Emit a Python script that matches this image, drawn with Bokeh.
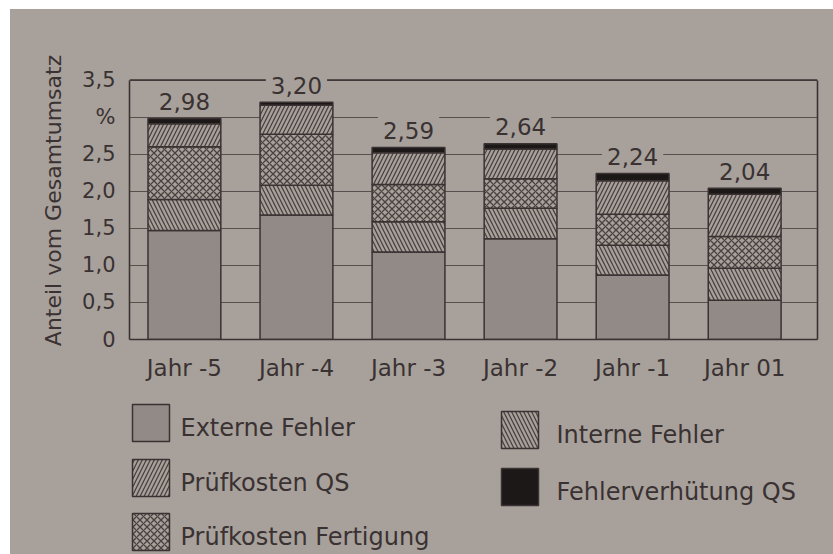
from bokeh.plotting import figure
from bokeh.models import ColumnDataSource, FixedTicker, Range1d, Label, LinearAxis, Span
from bokeh.layouts import column
from bokeh.embed import file_html
from bokeh.resources import INLINE
from bokeh.core.properties import value

# ---- data (share of total turnover, %) ----
years = ["Jahr -5", "Jahr -4", "Jahr -3", "Jahr -2", "Jahr -1", "Jahr 01"]
externe_fehler = [1.47, 1.68, 1.18, 1.36, 0.87, 0.53]
interne_fehler = [0.42, 0.40, 0.41, 0.41, 0.40, 0.43]
pruefkosten_fertigung = [0.71, 0.69, 0.50, 0.40, 0.42, 0.43]
pruefkosten_qs = [0.31, 0.39, 0.43, 0.40, 0.45, 0.57]
fehlerverhuetung_qs = [0.07, 0.04, 0.07, 0.07, 0.10, 0.08]
gesamt = [2.98, 3.20, 2.59, 2.64, 2.24, 2.04]

y_ticks = [0.0, 0.5, 1.0, 1.5, 2.0, 2.5, 3.0, 3.5]
y_tick_labels = ["0", "0,5", "1,0", "1,5", "2,0", "2,5", "%", "3,5"]
y_max = 3.5

series_names = ["Externe Fehler", "Interne Fehler", "Prüfkosten Fertigung",
                "Prüfkosten QS", "Fehlerverhütung QS"]

# ---- styling ----
PAPER = "#a8a19b"
BAR_GREY = "#918a86"
INK = "#3a3232"
HATCH_INK = "#4a4040"
FONT_NAME = "DejaVu Sans"
FONT = value(FONT_NAME)

fills = [BAR_GREY, PAPER, PAPER, PAPER, "#1c1818"]
hatches = ["blank", "left_diagonal_line", "diagonal_cross", "right_diagonal_line", "blank"]
hatch_scales = [8, 8, 7, 8, 8]

x_pos = list(range(len(years)))
keys = ["ext", "int", "fert", "qs", "fv"]
src = ColumnDataSource(dict(x=x_pos, ext=externe_fehler, int=interne_fehler,
                            fert=pruefkosten_fertigung, qs=pruefkosten_qs,
                            fv=fehlerverhuetung_qs))

# a little head-room above 3.5 so the top total label is not clipped;
# the box itself is drawn only up to 3.5
p = figure(width=823, height=381, x_range=Range1d(-0.49, 5.65),
           y_range=Range1d(0, y_max + 0.25),
           toolbar_location=None, output_backend="svg",
           min_border_left=119, min_border_right=16, min_border_top=52, min_border_bottom=51)
p.background_fill_color = PAPER
p.border_fill_color = PAPER
p.outline_line_color = None

p.xgrid.grid_line_color = None
p.ygrid.ticker = FixedTicker(ticks=y_ticks)
p.ygrid.grid_line_color = "#5a4f4f"
p.ygrid.grid_line_width = 1.2

p.vbar_stack(keys, x="x", width=0.65, source=src,
             fill_color=fills, line_color=INK, line_width=1.5,
             hatch_pattern=hatches, hatch_color=HATCH_INK, hatch_weight=1.3,
             hatch_scale=hatch_scales)

# top edge of the box
p.add_layout(Span(location=y_max, dimension="width", line_color=INK, line_width=1.6))

# totals above each bar, with a paper-coloured box that interrupts grid lines
for xi, tot in zip(x_pos, gesamt):
    p.add_layout(Label(x=xi, y=tot, y_offset=17, text=f"{tot:.2f}".replace(".", ","),
                       text_align="center", text_baseline="middle",
                       text_font=FONT_NAME, text_font_size="23px", text_color=INK,
                       background_fill_color=PAPER, padding=5))

# axes
p.xaxis.ticker = FixedTicker(ticks=x_pos)
p.xaxis.major_label_overrides = {float(i): y for i, y in zip(x_pos, years)}
p.yaxis.ticker = FixedTicker(ticks=y_ticks)
p.yaxis.major_label_overrides = dict(zip(y_ticks, y_tick_labels))
p.yaxis.bounds = (0, y_max)
for ax in (p.xaxis, p.yaxis):
    ax.axis_line_color = INK
    ax.axis_line_width = 1.6
    ax.major_tick_line_color = None
    ax.minor_tick_line_color = None
    ax.major_label_text_font = FONT_NAME
    ax.major_label_text_color = INK
p.xaxis.major_label_text_font_size = "23px"
p.xaxis.major_label_standoff = 9
p.yaxis.major_label_text_font_size = "21px"
p.yaxis.major_label_standoff = 8
p.yaxis.axis_label = "Anteil vom Gesamtumsatz"
p.yaxis.axis_label_text_font = FONT_NAME
p.yaxis.axis_label_text_font_style = "normal"
p.yaxis.axis_label_text_font_size = "22px"
p.yaxis.axis_label_text_color = INK
p.yaxis.axis_label_standoff = 13

# right edge of the box
right = LinearAxis(ticker=FixedTicker(ticks=[]), bounds=(0, y_max),
                   axis_line_color=INK, axis_line_width=1.6,
                   major_tick_line_color=None, minor_tick_line_color=None,
                   major_label_text_alpha=0, major_label_standoff=0)
p.add_layout(right, "right")

# ---- legend panel (page-pixel coordinates; its frame lines up with the chart's) ----
lg = figure(width=823, height=164, x_range=Range1d(129, 817), y_range=Range1d(554, 390),
            toolbar_location=None, output_backend="svg",
            x_axis_location=None, y_axis_location=None, min_border=0)
lg.background_fill_alpha = 0
lg.border_fill_color = PAPER
lg.outline_line_color = None
lg.grid.visible = False

legend_order = [0, 3, 2, 1, 4]
sw_left = [132, 132, 132, 501, 501]
sw_top = [404, 459, 513, 411, 468]
txt_x = [180, 180, 180, 556, 556]
for k, idx in enumerate(legend_order):
    lg.quad(left=sw_left[k], right=sw_left[k] + 37, top=sw_top[k], bottom=sw_top[k] + 37,
            fill_color=fills[idx], line_color=INK, line_width=1.5,
            hatch_pattern=hatches[idx], hatch_color=HATCH_INK, hatch_weight=1.3,
            hatch_scale=hatch_scales[idx])
    lg.text(x=[txt_x[k]], y=[sw_top[k] + 23], text=[series_names[idx]],
            text_baseline="middle", text_align="left",
            text_font=FONT, text_font_size="24px", text_color=INK)

layout = column(p, lg, spacing=0, margin=(9, 0, 0, 10),
                styles={"background-color": PAPER})
open("out.html", "w").write(file_html(layout, INLINE))
